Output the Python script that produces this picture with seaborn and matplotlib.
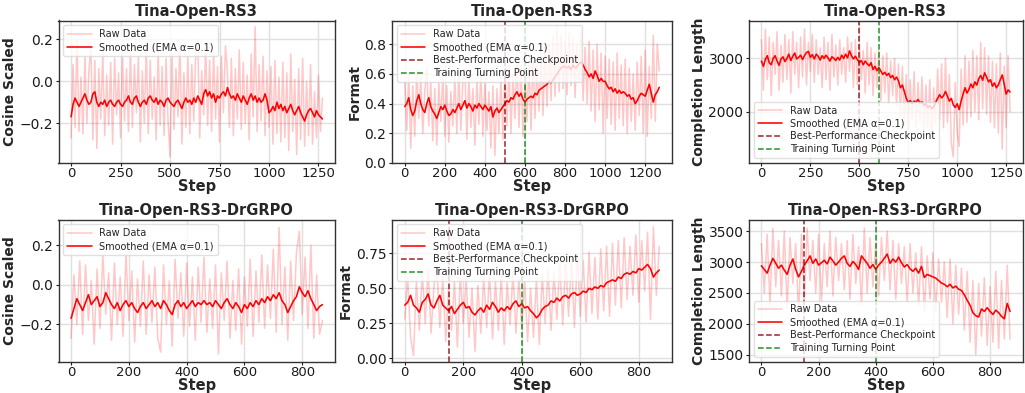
import numpy as np
import matplotlib
matplotlib.use("Agg")
import matplotlib.pyplot as plt
import seaborn as sns

# ---------------- data (sampled every 10 steps) ----------------
STEP_INTERVAL = 10

rs3_cos_raw = [
    -0.27, 0.08, -0.22, 0.20, -0.24, 0.02, -0.25, 0.12, -0.20, 0.05,
    0.17, -0.28, 0.10, -0.32, 0.06, -0.18, 0.14, -0.26, 0.03, -0.21,
    0.09, -0.30, 0.11, -0.16, 0.04, -0.27, 0.13, -0.19, 0.06, -0.24,
    0.15, -0.22, 0.08, -0.15, 0.12, -0.29, 0.05, -0.20, 0.16, -0.25,
    0.10, -0.18, 0.02, -0.28, 0.14, -0.21, 0.07, -0.26, 0.11, -0.19,
    -0.36, 0.13, -0.23, 0.06, -0.17, 0.20, -0.30, 0.04, -0.22, 0.12,
    -0.25, 0.08, -0.19, 0.15, 0.20, -0.27, 0.05, -0.16, 0.18, -0.21,
    0.10, -0.24, 0.14, -0.18, 0.07, -0.29, 0.12, -0.15, 0.17, 0.04,
    -0.22, 0.11, -0.26, 0.06, -0.18, 0.15, -0.23, 0.09, -0.20, 0.03,
    -0.28, 0.13, -0.17, 0.26, -0.24, 0.08, -0.19, 0.12, -0.26, 0.05,
    -0.22, 0.07, -0.30, 0.10, -0.25, 0.02, -0.29, 0.09, -0.27, 0.04,
    -0.33, 0.13, -0.24, 0.01, -0.35, 0.06, -0.28, 0.11, -0.31, 0.00,
    -0.26, 0.08, -0.30, -0.05, -0.27, 0.03, -0.24, -0.08,
]
rs3_cos_smooth = [
    -0.17, -0.11, -0.08, -0.10, -0.12, -0.10, -0.08, -0.06, -0.09, -0.11,
    -0.10, -0.06, -0.05, -0.10, -0.12, -0.10, -0.11, -0.09, -0.12, -0.10,
    -0.09, -0.11, -0.12, -0.10, -0.09, -0.11, -0.12, -0.10, -0.09, -0.07,
    -0.10, -0.11, -0.08, -0.07, -0.10, -0.12, -0.10, -0.09, -0.11, -0.08,
    -0.07, -0.09, -0.10, -0.08, -0.11, -0.09, -0.10, -0.12, -0.09, -0.08,
    -0.10, -0.11, -0.12, -0.10, -0.09, -0.11, -0.13, -0.10, -0.08, -0.10,
    -0.09, -0.11, -0.08, -0.10, -0.07, -0.09, -0.11, -0.06, -0.04, -0.07,
    -0.05, -0.08, -0.06, -0.10, -0.07, -0.08, -0.06, -0.05, -0.07, -0.03,
    -0.06, -0.08, -0.07, -0.09, -0.06, -0.08, -0.10, -0.07, -0.09, -0.11,
    -0.08, -0.06, -0.09, -0.07, -0.10, -0.08, -0.10, -0.09, -0.06, -0.09,
    -0.15, -0.14, -0.12, -0.14, -0.10, -0.13, -0.11, -0.14, -0.12, -0.15,
    -0.13, -0.11, -0.14, -0.16, -0.14, -0.12, -0.15, -0.17, -0.19, -0.16,
    -0.14, -0.13, -0.15, -0.17, -0.14, -0.16, -0.17, -0.18,
]

rs3_fmt_raw = [
    0.55, 0.22, 0.60, 0.10, 0.52, 0.18, 0.62, 0.30, 0.58, 0.20,
    0.48, 0.65, 0.25, 0.55, 0.15, 0.50, 0.12, 0.54, 0.28, 0.60,
    0.18, 0.52, 0.14, 0.48, 0.25, 0.58, 0.20, 0.62, 0.22, 0.55,
    0.64, 0.16, 0.58, 0.24, 0.50, 0.12, 0.56, 0.26, 0.62, 0.18,
    0.54, 0.22, 0.48, 0.10, 0.52, 0.05, 0.50, 0.20, 0.58, 0.16,
    0.62, 0.25, 0.66, 0.20, 0.60, 0.30, 0.70, 0.24, 0.65, 0.18,
    0.62, 0.28, 0.68, 0.22, 0.72, 0.30, 0.66, 0.35, 0.75, 0.32,
    0.78, 0.38, 0.80, 0.42, 0.85, 0.45, 0.92, 0.48, 0.86, 0.50,
    0.82, 0.46, 0.88, 0.52, 0.84, 0.44, 0.80, 0.55, 0.90, 0.42,
    0.78, 0.40, 0.82, 0.35, 0.76, 0.28, 0.80, 0.36, 0.74, 0.20,
    0.72, 0.30, 0.70, 0.26, 0.68, 0.22, 0.74, 0.30, 0.66, 0.25,
    0.70, 0.20, 0.64, 0.28, 0.60, 0.22, 0.68, 0.32, 0.72, 0.20,
    0.76, 0.18, 0.65, 0.30, 0.86, 0.28, 0.80, 0.62,
]
rs3_fmt_smooth = [
    0.38, 0.40, 0.44, 0.36, 0.32, 0.35, 0.42, 0.46, 0.40, 0.36,
    0.34, 0.40, 0.44, 0.38, 0.35, 0.33, 0.30, 0.34, 0.38, 0.36,
    0.39, 0.35, 0.32, 0.33, 0.36, 0.34, 0.37, 0.40, 0.36, 0.39,
    0.42, 0.37, 0.40, 0.38, 0.35, 0.39, 0.37, 0.40, 0.38, 0.36,
    0.39, 0.37, 0.35, 0.38, 0.31, 0.35, 0.37, 0.34, 0.36, 0.38,
    0.40, 0.42, 0.41, 0.44, 0.43, 0.46, 0.48, 0.45, 0.47, 0.43,
    0.41, 0.43, 0.44, 0.45, 0.44, 0.47, 0.46, 0.49, 0.50, 0.51,
    0.52, 0.53, 0.55, 0.54, 0.56, 0.58, 0.60, 0.62, 0.64, 0.65,
    0.65, 0.64, 0.65, 0.63, 0.66, 0.64, 0.65, 0.67, 0.68, 0.66,
    0.63, 0.61, 0.58, 0.60, 0.57, 0.62, 0.59, 0.55, 0.57, 0.55,
    0.55, 0.52, 0.50, 0.51, 0.48, 0.50, 0.47, 0.49, 0.47, 0.48,
    0.47, 0.45, 0.46, 0.43, 0.44, 0.40, 0.42, 0.45, 0.47, 0.46,
    0.45, 0.49, 0.53, 0.47, 0.41, 0.46, 0.48, 0.51,
]

rs3_len_raw = [
    3350, 2400, 3550, 2600, 3400, 2300, 3300, 2700, 3500, 2400,
    3250, 2550, 3450, 2600, 3350, 2350, 3500, 2700, 3300, 2450,
    3400, 2650, 3550, 2500, 3300, 2750, 3450, 2550, 3350, 2700,
    3200, 2450, 3400, 2600, 3300, 2400, 3450, 2650, 3250, 2500,
    3350, 2700, 3200, 2550, 3400, 2750, 3300, 2450, 3350, 2500,
    3250, 2600, 3150, 2350, 3300, 2500, 3200, 2300, 3100, 2450,
    3150, 2200, 3050, 2350, 3100, 2150, 2950, 2300, 3000, 2100,
    2900, 1900, 2850, 1750, 2700, 1600, 2600, 1850, 2750, 1700,
    2550, 1800, 2650, 1550, 2500, 1700, 2600, 1500, 2450, 1750,
    2800, 1850, 2900, 1700, 3000, 1800, 2700, 1400, 1150, 2550,
    1600, 1350, 2800, 1750, 3050, 1800, 2950, 1900, 3150, 2000,
    3050, 1850, 3300, 2050, 3200, 1950, 3050, 1800, 2950, 1700,
    2900, 1600, 3100, 1300, 2850, 1700, 3050, 2000,
]
rs3_len_smooth = [
    2950, 2850, 2980, 3050, 2920, 2880, 3000, 3050, 2950, 2870,
    2990, 3030, 2940, 3000, 3080, 2960, 3040, 3100, 2990, 3020,
    3060, 2980, 3050, 3110, 3130, 3020, 3070, 2990, 3080, 3040,
    2970, 3050, 3000, 3060, 3010, 2950, 3030, 3000, 2960, 3020,
    2970, 3060, 3000, 3080, 3010, 3140, 3050, 2990, 3040, 2980,
    2920, 2960, 2880, 2950, 2900, 2860, 2920, 2790, 2850, 2770,
    2830, 2760, 2700, 2740, 2680, 2720, 2640, 2680, 2600, 2650,
    2580, 2450, 2500, 2380, 2250, 2170, 2210, 2150, 2200, 2180,
    2230, 2160, 2190, 2120, 2150, 2080, 2110, 2060, 2090, 2180,
    2250, 2320, 2260, 2300, 2380, 2290, 2200, 2250, 2130, 2080,
    2150, 2040, 2200, 2330, 2450, 2350, 2420, 2520, 2450, 2560,
    2500, 2620, 2680, 2590, 2730, 2650, 2560, 2600, 2480, 2540,
    2450, 2500, 2600, 2690, 2520, 2330, 2410, 2370,
]

dr_cos_raw = [
    -0.27, 0.05, -0.20, 0.12, -0.25, 0.10, -0.18, 0.02, -0.30, 0.08,
    -0.22, 0.15, -0.15, 0.06, -0.28, 0.11, -0.20, 0.04, -0.26, 0.16,
    -0.18, 0.07, -0.29, 0.03, -0.21, 0.12, -0.25, 0.05, -0.19, 0.09,
    -0.27, -0.34, 0.10, -0.20, 0.02, -0.31, 0.13, -0.17, 0.06, -0.26,
    0.11, -0.21, 0.04, -0.28, 0.09, -0.19, 0.14, -0.24, 0.03, -0.22,
    0.10, -0.35, 0.06, -0.18, 0.12, -0.27, 0.02, -0.23, 0.08, -0.30,
    0.04, -0.21, 0.13, -0.26, 0.07, -0.19, 0.15, -0.22, 0.10, -0.17,
    0.18, -0.24, 0.29, -0.20, 0.09, -0.28, 0.12, -0.18, 0.16, 0.27,
    -0.15, 0.14, -0.22, 0.20, -0.27, 0.05, -0.25, -0.18,
]
dr_cos_smooth = [
    -0.17, -0.12, -0.07, -0.10, -0.13, -0.09, -0.05, -0.10, -0.08, -0.06,
    -0.11, -0.09, -0.04, -0.07, -0.10, -0.12, -0.09, -0.13, -0.10, -0.08,
    -0.11, -0.09, -0.12, -0.14, -0.11, -0.09, -0.12, -0.10, -0.08, -0.11,
    -0.09, -0.12, -0.08, -0.10, -0.13, -0.15, -0.10, -0.08, -0.11, -0.09,
    -0.12, -0.10, -0.08, -0.11, -0.09, -0.10, -0.08, -0.10, -0.09, -0.11,
    -0.08, -0.10, -0.12, -0.09, -0.07, -0.10, -0.12, -0.09, -0.11, -0.14,
    -0.10, -0.12, -0.09, -0.11, -0.08, -0.10, -0.07, -0.09, -0.06, -0.08,
    -0.05, -0.07, -0.04, -0.08, -0.10, -0.14, -0.11, -0.08, -0.06, -0.01,
    -0.04, -0.06, -0.03, -0.07, -0.10, -0.13, -0.11, -0.10,
]

dr_fmt_raw = [
    0.28, 0.58, 0.15, 0.02, 0.55, 0.20, 0.62, 0.25, 0.64, 0.18,
    0.52, 0.65, 0.22, 0.58, 0.12, 0.50, 0.20, 0.55, 0.08, 0.60,
    0.25, 0.56, 0.15, 0.50, 0.05, 0.52, 0.18, 0.58, 0.22, 0.62,
    0.14, 0.55, 0.20, 0.60, 0.10, 0.54, 0.24, 0.62, 0.18, 0.58,
    0.22, 0.55, 0.12, 0.50, 0.15, 0.56, 0.10, 0.60, 0.25, 0.64,
    0.20, 0.62, 0.28, 0.68, 0.24, 0.70, 0.30, 0.72, 0.22, 0.74,
    0.30, 0.70, 0.26, 0.76, 0.32, 0.72, 0.28, 0.78, 0.34, 0.80,
    0.30, 0.82, 0.38, 0.84, 0.36, 0.86, 0.42, 0.80, 0.45, 0.88,
    0.40, 0.84, 0.48, 0.90, 0.28, 0.94, 0.45, 0.80,
]
dr_fmt_smooth = [
    0.38, 0.40, 0.45, 0.38, 0.36, 0.33, 0.40, 0.42, 0.46, 0.38,
    0.36, 0.41, 0.45, 0.38, 0.36, 0.34, 0.37, 0.32, 0.35, 0.38,
    0.40, 0.36, 0.37, 0.33, 0.31, 0.34, 0.36, 0.33, 0.38, 0.35,
    0.40, 0.37, 0.33, 0.36, 0.34, 0.37, 0.35, 0.39, 0.41, 0.37,
    0.39, 0.36, 0.37, 0.34, 0.32, 0.29, 0.31, 0.35, 0.37, 0.38,
    0.41, 0.40, 0.43, 0.41, 0.44, 0.45, 0.43, 0.46, 0.47, 0.45,
    0.46, 0.48, 0.47, 0.50, 0.49, 0.51, 0.50, 0.52, 0.51, 0.54,
    0.55, 0.56, 0.55, 0.58, 0.57, 0.60, 0.61, 0.60, 0.62, 0.61,
    0.64, 0.63, 0.65, 0.67, 0.64, 0.58, 0.61, 0.63,
]

dr_len_raw = [
    3300, 2500, 3450, 2300, 3550, 2600, 3350, 2450, 3500, 2250,
    3400, 2650, 3300, 2100, 3450, 2400, 3550, 2700, 3350, 2500,
    3450, 2350, 3300, 2600, 3500, 2450, 3400, 2700, 3300, 2550,
    3350, 2400, 3450, 2650, 3250, 2300, 3550, 2500, 3400, 2600,
    3300, 2450, 3400, 2700, 3500, 2550, 3350, 2400, 3300, 2650,
    3250, 2350, 3300, 2500, 3150, 2300, 3250, 2200, 3100, 2400,
    3150, 2200, 3050, 2350, 3000, 2100, 3050, 2000, 2950, 2150,
    2900, 1900, 2850, 1700, 2700, 1500, 2650, 1800, 2750, 1650,
    2600, 1700, 2850, 1600, 2700, 1750, 2950, 1750,
]
dr_len_smooth = [
    2940, 2880, 2820, 2950, 3060, 2980, 2900, 2950, 2870, 2800,
    2950, 3050, 2880, 2760, 2850, 2950, 3020, 3100, 2980, 3050,
    2950, 2990, 3030, 2970, 3080, 3020, 2950, 3000, 3060, 3100,
    2980, 2930, 3010, 2960, 2880, 3100, 3040, 2980, 2900, 2960,
    2880, 2950, 3000, 3060, 3130, 2980, 3050, 3000, 3080, 2990,
    2920, 2960, 2890, 2850, 2900, 2820, 2930, 2750, 2800, 2780,
    2760, 2740, 2700, 2660, 2640, 2600, 2640, 2580, 2610, 2560,
    2540, 2470, 2380, 2300, 2180, 2130, 2110, 2240, 2200, 2260,
    2200, 2150, 2220, 2180, 2120, 2080, 2330, 2200,
]

titles = ["Tina-Open-RS3", "Tina-Open-RS3-DrGRPO"]
ylabels = ["Cosine Scaled", "Format", "Completion Length"]
best_ckpt = [500, 150]
turning_point = [600, 400]

# ---------------- style ----------------
sns.set_style("whitegrid")
plt.rcParams.update({
    "font.family": ["DejaVu Sans"],
    "axes.edgecolor": "0.2",
    "axes.linewidth": 1.0,
    "grid.color": "0.88",
    "grid.linewidth": 1.0,
    "xtick.bottom": True,
    "ytick.left": True,
    "xtick.major.size": 2.0,
    "ytick.major.size": 2.5,
    "xtick.major.pad": 1.0,
    "ytick.major.pad": 1.5,
    "xtick.color": "0.1",
    "ytick.color": "0.1",
    "xtick.labelsize": 9.5,
    "ytick.labelsize": 10,
})

fig = plt.figure(figsize=(10.25, 3.93), dpi=100)
W, H = 1025.0, 393.0
col_px = [(58.5, 335.0), (392.0, 672.0), (749.0, 1022.5)]
row_px = [(20.5, 163.0), (219.5, 362.0)]

panels = [
    [(rs3_cos_raw, rs3_cos_smooth), (rs3_fmt_raw, rs3_fmt_smooth), (rs3_len_raw, rs3_len_smooth)],
    [(dr_cos_raw, dr_cos_smooth), (dr_fmt_raw, dr_fmt_smooth), (dr_len_raw, dr_len_smooth)],
]
ylims = [
    [(-0.39, 0.29), (0.0, 0.96), (1040, 3710)],
    [(-0.39, 0.33), (-0.025, 0.99), (1380, 3690)],
]
yticks = [
    [[-0.2, 0.0, 0.2], [0.0, 0.2, 0.4, 0.6, 0.8], [2000, 3000]],
    [[-0.2, 0.0, 0.2], [0.0, 0.25, 0.5, 0.75], [1500, 2000, 2500, 3000, 3500]],
]
xticks = [
    [[0, 250, 500, 750, 1000, 1250], [0, 200, 400, 600, 800, 1000, 1200], [0, 250, 500, 750, 1000, 1250]],
    [[0, 200, 400, 600, 800]] * 3,
]

for r in range(2):
    for c in range(3):
        l, rr = col_px[c]
        t, b = row_px[r]
        ax = fig.add_axes([l / W, 1 - b / H, (rr - l) / W, (b - t) / H])
        raw, smooth = panels[r][c]
        steps = np.arange(len(raw)) * STEP_INTERVAL
        sns.lineplot(x=steps, y=raw, ax=ax, color="red", alpha=0.22, lw=1.1,
                     label="Raw Data", estimator=None)
        sns.lineplot(x=steps, y=smooth, ax=ax, color="red", lw=1.15,
                     label="Smoothed (EMA \u03b1=0.1)", estimator=None)
        if c > 0:
            ax.axvline(best_ckpt[r], color="darkred", ls="--", lw=1.1, alpha=0.85,
                       label="Best-Performance Checkpoint")
            ax.axvline(turning_point[r], color="green", ls="--", lw=1.1, alpha=0.85,
                       label="Training Turning Point")
        n = steps[-1]
        ax.set_xlim(-0.05 * n, 1.05 * n)
        ax.set_ylim(*ylims[r][c])
        ax.set_yticks(yticks[r][c])
        ax.set_xticks(xticks[r][c])
        ax.set_title(titles[r], fontsize=10.5, fontweight="bold", pad=3)
        ax.set_xlabel("Step", fontsize=10.5, fontweight="bold", labelpad=-0.5)
        ax.set_ylabel(ylabels[c], fontsize=10, fontweight="bold", labelpad=2)
        loc = "lower left" if c == 2 else "upper left"
        ax.legend(loc=loc, fontsize=7, frameon=True, framealpha=0.8,
                  edgecolor="0.85", handlelength=2.5, borderpad=0.4,
                  labelspacing=0.3)

fig.savefig("out.png", dpi=100)
